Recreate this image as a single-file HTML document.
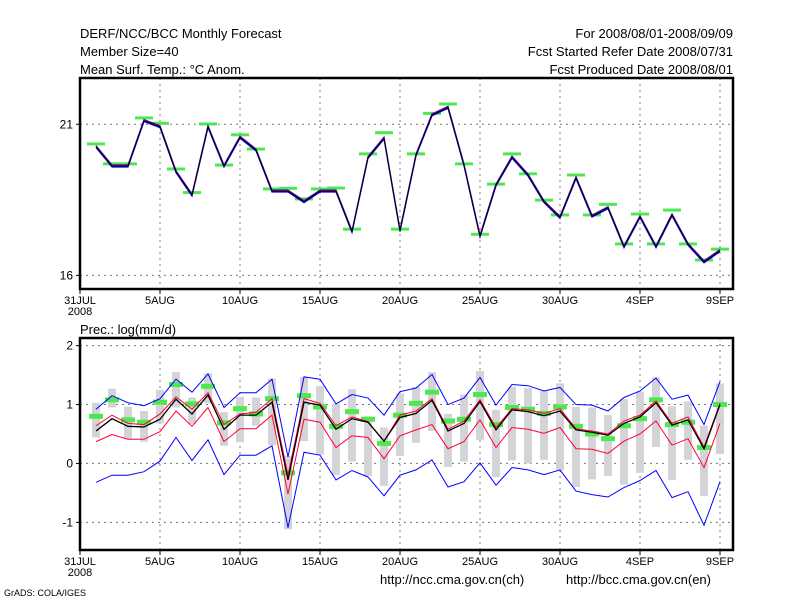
<!DOCTYPE html>
<html><head><meta charset="utf-8"><style>
body{margin:0;background:#fff;width:800px;height:600px;overflow:hidden}
svg text{font-family:"Liberation Sans",sans-serif;fill:#000}
</style></head><body>
<svg id="c" width="800" height="600" xmlns="http://www.w3.org/2000/svg">
<rect width="800" height="600" fill="#fff"/>
<g font-size="13">
<text x="80" y="38">DERF/NCC/BCC Monthly Forecast</text>
<text x="80" y="56">Member Size=40</text>
<text x="80" y="74">Mean Surf. Temp.: °C Anom.</text>
<text x="733" y="38" text-anchor="end">For 2008/08/01-2008/09/09</text>
<text x="733" y="56" text-anchor="end">Fcst Started Refer Date 2008/07/31</text>
<text x="733" y="74" text-anchor="end">Fcst Produced Date 2008/08/01</text>
<text x="80" y="334">Prec.: log(mm/d)</text>
<text x="380" y="584">http://ncc.cma.gov.cn(ch)</text>
<text x="566" y="584">http://bcc.cma.gov.cn(en)</text>
</g>
<text x="4" y="596" font-size="9">GrADS: COLA/IGES</text>
</svg>
<script>
const tempMean=[20.26,19.62,19.62,21.12,20.92,19.43,18.66,20.92,19.62,20.57,20.15,18.79,18.79,18.44,18.79,18.79,17.45,19.9,20.54,17.48,19.98,21.31,21.56,19.65,17.3,18.99,19.91,19.32,18.44,17.92,19.23,17.96,18.24,16.95,17.94,16.95,18.0,17.03,16.45,16.82];
const tempObs=[20.35,19.69,19.69,21.21,21.03,19.52,18.74,21.01,19.65,20.65,20.18,18.86,18.88,18.53,18.86,18.89,17.53,20.02,20.72,17.53,20.02,21.36,21.67,19.69,17.36,19.02,20.02,19.36,18.49,18.0,19.32,18.0,18.35,17.04,18.03,17.04,18.16,17.04,16.51,16.87];
const precBlueTop=[0.92,1.15,1.03,0.98,1.10,1.43,1.21,1.52,0.95,1.20,1.20,1.43,0.11,1.47,1.43,1.01,1.17,1.11,0.82,1.22,1.28,1.51,1.00,1.11,1.46,0.99,1.34,1.32,1.23,1.29,1.00,0.99,0.89,1.12,1.23,1.45,1.09,1.16,0.66,1.39];
const precRedTop=[0.64,0.82,0.68,0.66,0.84,1.13,0.92,1.20,0.66,0.84,0.87,1.10,-0.20,1.10,1.02,0.64,0.79,0.71,0.38,0.82,0.89,1.10,0.58,0.72,1.08,0.61,0.93,0.91,0.85,0.93,0.59,0.55,0.50,0.72,0.82,1.06,0.68,0.79,0.28,1.02];
const precMean=[0.55,0.76,0.63,0.62,0.75,1.09,0.84,1.16,0.58,0.82,0.82,1.04,-0.28,1.04,0.99,0.58,0.76,0.70,0.38,0.78,0.85,1.07,0.55,0.68,1.05,0.57,0.91,0.88,0.81,0.89,0.57,0.53,0.48,0.68,0.79,1.03,0.65,0.74,0.25,1.00];
const precRedLow=[0.37,0.49,0.41,0.41,0.54,0.89,0.63,0.95,0.37,0.59,0.59,0.82,-0.52,0.75,0.70,0.27,0.47,0.44,0.08,0.47,0.57,0.66,0.25,0.37,0.74,0.27,0.61,0.58,0.51,0.61,0.25,0.24,0.17,0.38,0.50,0.72,0.31,0.42,-0.07,0.68];
const precBlueLow=[-0.32,-0.20,-0.20,-0.14,0.04,0.44,0.05,0.40,-0.19,0.14,0.14,0.30,-1.09,0.19,0.14,-0.28,-0.12,-0.23,-0.55,-0.20,-0.11,0.06,-0.40,-0.31,0.01,-0.37,-0.07,-0.11,-0.19,-0.11,-0.47,-0.53,-0.57,-0.41,-0.29,-0.12,-0.58,-0.48,-1.05,-0.31];
const precBarTop=[1.03,1.27,0.96,0.89,1.25,1.55,1.12,1.53,0.87,1.13,1.12,1.44,0.13,1.47,1.31,1.01,1.26,0.80,0.61,1.19,1.30,1.55,0.84,1.17,1.57,0.91,1.30,1.28,1.23,1.36,0.96,0.95,0.82,1.09,1.22,1.46,0.97,1.05,0.64,1.36];
const precBarBot=[0.44,0.95,0.41,0.37,0.68,0.95,0.67,1.02,0.30,0.36,0.64,0.31,-1.12,0.38,0.15,-0.20,0.03,-0.21,-0.38,0.13,0.35,0.55,-0.06,0.03,0.40,-0.23,0.05,0.00,0.06,-0.12,-0.40,-0.27,-0.21,-0.36,-0.16,0.28,-0.28,0.06,-0.55,0.16];
const precObs=[0.80,1.08,0.74,0.70,1.04,1.34,1.01,1.31,0.69,0.93,0.84,1.10,-0.16,1.15,0.96,0.63,0.88,0.75,0.34,0.82,1.02,1.21,0.72,0.75,1.17,0.66,0.95,0.92,0.85,0.96,0.63,0.50,0.42,0.64,0.76,1.08,0.66,0.70,0.27,1.00];
const xTickLabels=["31JUL","5AUG","10AUG","15AUG","20AUG","25AUG","30AUG","4SEP","9SEP"];
const topTicks=[21,16];
const botTicks=[2,1,0,-1];

const NS="http://www.w3.org/2000/svg";
const svg=document.getElementById('c');
const X0=80,X1=733;
const xs=i=>X0+16*i;
function mk(tag,at,parent){const e=document.createElementNS(NS,tag);for(const k in at)e.setAttribute(k,at[k]);(parent||svg).appendChild(e);return e;}
function panel(top,bot,vTop,vBot){return v=>top+(vTop-v)/(vTop-vBot)*(bot-top);}
const yT=panel(78,289,22.53,15.55);
const yB=panel(338,550,2.13,-1.47);
const pts=(arr,y,dy)=>arr.map((v,k)=>xs(k+1)+','+(y(v)+(dy||0))).join(' ');

function frame(top,bot,ticks,y,name){
  const g=mk('g',{});
  
  
  for(let k=1;k<xTickLabels.length;k++){
    const x=xs(k*5);
    const l=mk('line',{x1:x,x2:x,y1:top,y2:bot,stroke:'#777','stroke-dasharray':'2,4'},g);
    
    
  }
  ticks.forEach(t=>{
    const l=mk('line',{x1:X0,x2:X1,y1:y(t),y2:y(t),stroke:'#777','stroke-dasharray':'2,4'},g);
    
    
    const tk=mk('line',{x1:X0-4,x2:X0,y1:y(t),y2:y(t),stroke:'#000'},g);
    
    
    const tx=mk('text',{x:X0-7,y:y(t)+4,'text-anchor':'end','font-size':'12'},g);
    tx.textContent=t;
    
    
  });
  xTickLabels.forEach((s,k)=>{
    const x=xs(k*5);
    const tk=mk('line',{x1:x,x2:x,y1:bot,y2:bot+5,stroke:'#000'},g);
    
    
    const tx=mk('text',{x:x,y:bot+15,'text-anchor':'middle','font-size':'11'},g);
    tx.textContent=s;
    
    
  });
  const yr=mk('text',{x:X0,y:bot+26,'text-anchor':'middle','font-size':'11'},g);
  yr.textContent='2008';
  
  
  const r=mk('rect',{x:X0,y:top,width:X1-X0,height:bot-top,fill:'none',stroke:'#000','stroke-width':'2.5'});
  
  
}
frame(78,289,topTicks,yT,'temperature-panel');
frame(338,550,botTicks,yB,'precip-panel');

// Top panel
tempObs.forEach((v,k)=>{
  const r=mk('rect',{x:xs(k+1)-9,y:yT(v)-1.5,width:18,height:3,fill:'#4de84d'});
  
  
});
let p=mk('polyline',{points:pts(tempMean,yT,1),fill:'none',stroke:'#0000ff','stroke-width':'1.2'});


p=mk('polyline',{points:pts(tempMean,yT,-1),fill:'none',stroke:'#0000ff','stroke-width':'1.2'});


p=mk('polyline',{points:pts(tempMean,yT,-0.5),fill:'none',stroke:'#ff0030','stroke-width':'1'});


p=mk('polyline',{points:pts(tempMean,yT),fill:'none',stroke:'#000','stroke-width':'1'});



// Bottom panel
precBarTop.forEach((v,k)=>{
  const r=mk('rect',{x:xs(k+1)-4,y:yB(v),width:8,height:yB(precBarBot[k])-yB(v),fill:'#d3d3d8'});
  
  
});
precObs.forEach((v,k)=>{
  const r=mk('rect',{x:xs(k+1)-7,y:yB(v)-2.5,width:14,height:5,fill:'#4de84d'});
  
  
});
p=mk('polyline',{points:pts(precBlueTop,yB),fill:'none',stroke:'#0000ff','stroke-width':'1'});


p=mk('polyline',{points:pts(precBlueLow,yB),fill:'none',stroke:'#0000ff','stroke-width':'1'});


p=mk('polyline',{points:pts(precRedTop,yB),fill:'none',stroke:'#ff0030','stroke-width':'1'});


p=mk('polyline',{points:pts(precRedLow,yB),fill:'none',stroke:'#ff0030','stroke-width':'1'});


p=mk('polyline',{points:pts(precMean,yB),fill:'none',stroke:'#000','stroke-width':'1.3'});


</script>
</body></html>
